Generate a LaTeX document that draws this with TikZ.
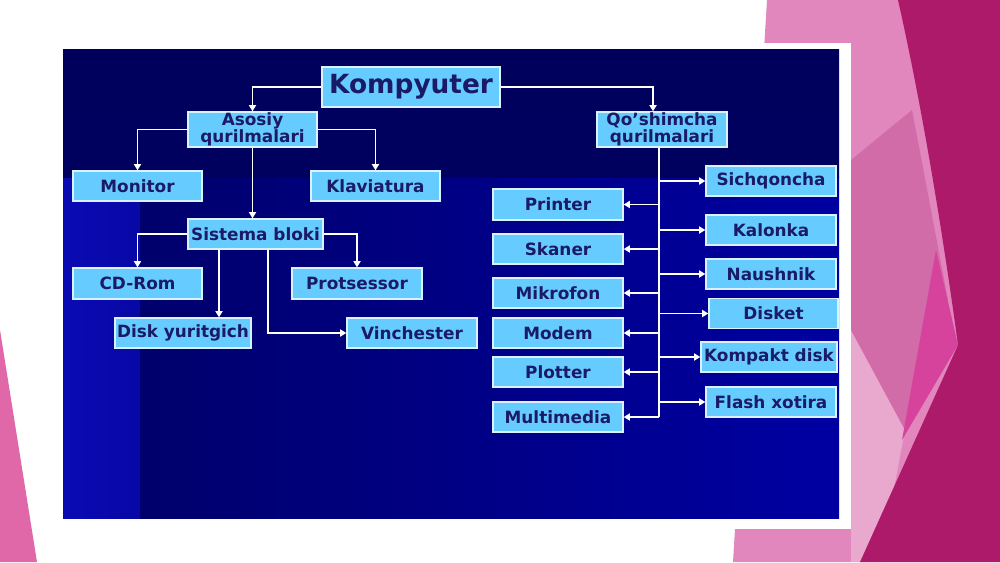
\documentclass[tikz,border=0pt]{standalone}
\usepackage{fontspec}
\setmainfont{DejaVu Sans}
\usetikzlibrary{arrows.meta, positioning}

\definecolor{boxfill}{HTML}{66CCFF}
\definecolor{boxline}{HTML}{D8F2FF}
\definecolor{boxtext}{HTML}{1A1A66}
\definecolor{navytop}{HTML}{00005C}
\definecolor{navydark}{HTML}{00006C}
\definecolor{navyright}{HTML}{0000A2}
\definecolor{navyleft}{HTML}{0A0AB4}
\definecolor{pinklight}{HTML}{E187BD}
\definecolor{pinkmid}{HTML}{D16CA8}
\definecolor{pinkhot}{HTML}{D6439C}
\definecolor{pinkpale}{HTML}{E9A9CF}
\definecolor{magenta}{HTML}{AE1A6A}
\definecolor{leftpink}{HTML}{E067A8}

\begin{document}
\begin{tikzpicture}[x=0.02cm, y=-0.02cm,
  box/.style={draw=boxline, line width=0.8pt, fill=boxfill, text=boxtext,
              inner sep=0pt, minimum width=2.6cm, minimum height=0.6cm,
              align=center, font=\bfseries\fontsize{9.6}{10}\selectfont},
  arr/.style={-{Triangle[length=3.5pt, width=4pt]}, draw=white, line width=1.1pt},
]
\useasboundingbox (0,0) rectangle (1000,562);

% slide background: pink corners, white frame, blue picture
\fill[leftpink] (0,330) -- (37,562) -- (0,562) -- cycle;
\fill[pinklight] (767,0) -- (1000,0) -- (1000,562) -- (733,562) -- cycle;
\fill[pinkpale] (851,330) -- (905,430) -- (880,562) -- (851,562) -- cycle;
\fill[pinkmid] (851,160) -- (912,110) -- (948,300) -- (905,430) -- (851,330) -- cycle;
\fill[pinkhot] (936,250) -- (958,345) -- (902,440) -- cycle;
\fill[magenta] (898,0) .. controls (925,120) and (945,250) .. (958,345)
  -- (860,562) -- (1000,562) -- (1000,0) -- cycle;
\fill[white] (55,43) rectangle (851,529);
\fill[navydark] (63,49) rectangle (839,518);
\shade[left color=navydark, right color=navyright] (140,177) rectangle (839,518);
\shade[left color=navyleft, right color=navyleft!80!navydark] (63,177) rectangle (140,518);
\shade[top color=navytop, bottom color=navytop!80!navydark] (63,49) rectangle (839,177);

\node[box, minimum width=3.56cm, minimum height=0.8cm,
      font=\bfseries\fontsize{15}{15}\selectfont] (komp) at (411,87) {Kompyuter};

\node[box, minimum width=2.58cm, minimum height=0.7cm] (asosiy) at (252.5,129.5) {Asosiy\\qurilmalari};
\node[box, minimum height=0.7cm] (qosh) at (662,129.5) {Qo’shimcha\\qurilmalari};

\node[box, minimum width=2.58cm] (monitor)  at (137.5,186) {Monitor};
\node[box, minimum width=2.58cm] (klav)     at (375.5,186) {Klaviatura};
\node[box, minimum width=2.7cm]  (sistema)  at (255.5,234) {Sistema bloki};
\node[box, minimum width=2.58cm, minimum height=0.62cm] (cdrom) at (137.5,283.5) {CD-Rom};
\node[box, minimum height=0.62cm] (protses) at (357,283.5) {Protsessor};
\node[box, minimum width=2.72cm] (disk)     at (183,333) {Disk yuritgich};
\node[box]                       (vinch)    at (412,333) {Vinchester};

\node[box] (sichq)   at (771,181)   {Sichqoncha};
\node[box] (kalonka) at (771,230)   {Kalonka};
\node[box] (naush)   at (771,274)   {Naushnik};
\node[box, minimum width=2.58cm] (disket) at (773.5,313.5) {Disket};
\node[box, minimum width=2.72cm] (kompakt) at (769,357) {Kompakt disk};
\node[box] (flash)   at (771,402)   {Flash xotira};

\node[box, minimum height=0.62cm] (printer) at (558,204.5) {Printer};
\node[box] (skaner)     at (558,249) {Skaner};
\node[box] (mikrofon)   at (558,293) {Mikrofon};
\node[box] (modem)      at (558,333) {Modem};
\node[box] (plotter)    at (558,372) {Plotter};
\node[box] (multimedia) at (558,417) {Multimedia};

\draw[arr] (komp.west) -| (asosiy.north);
\draw[arr] (komp.east) -| ([xshift=-0.18cm]qosh.north);
\draw[arr] (asosiy.west) -| (monitor.north);
\draw[arr] (asosiy.east) -| (klav.north);
\draw[arr] (asosiy.south) -- (asosiy.south |- sistema.north);
\draw[arr] (sistema.west) -| (cdrom.north);
\draw[arr] (sistema.east) -| (protses.north);
\draw[arr] ([xshift=-0.73cm]sistema.south) -- ([xshift=-0.73cm]sistema.south |- disk.north);
\draw[arr] ([xshift=0.25cm]sistema.south) |- (vinch.west);

% trunk of the right-hand tree
\coordinate (trunk) at ([xshift=-0.06cm]qosh.south);
\draw[white, line width=1.1pt] (trunk) -- (trunk |- multimedia);
\foreach \n in {sichq, kalonka, naush, disket, kompakt, flash}
  \draw[arr] (trunk |- \n) -- (\n.west);
\foreach \n in {printer, skaner, mikrofon, modem, plotter, multimedia}
  \draw[arr] (trunk |- \n) -- (\n.east);

\end{tikzpicture}
\end{document}
